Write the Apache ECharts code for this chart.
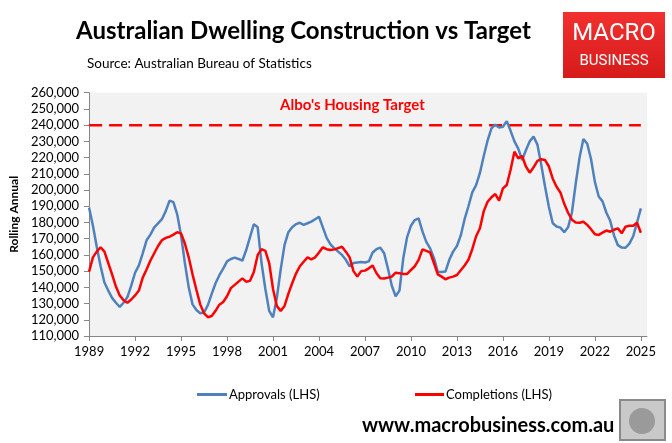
<!DOCTYPE html>
<html><head><meta charset="utf-8">
<script src="https://cdn.jsdelivr.net/npm/echarts@6/dist/echarts.min.js"></script>
<style>html,body{margin:0;padding:0;background:#fff}#c{width:672px;height:443px}</style>
</head><body><div id="c"></div>
<script>
// ---- data ----
const startYear = 1989;            // first quarter of the series
const quartersPerYear = 4;
const tickYears = [1989, 1992, 1995, 1998, 2001, 2004, 2007, 2010, 2013, 2016, 2019, 2022, 2025];
const targetLevel = 240000;
const targetYears = [1989, 2025];
const approvals = [
  189000,178000,165000,153000,143000,138000,133500,130500,128000,130500,
  134000,141000,149000,153500,161000,169000,172500,177000,179500,182000,
  187000,193500,192500,185000,172000,155000,140000,129500,126000,124000,
  124500,129000,136000,142500,147500,151500,156000,157500,158300,157500,
  156400,163000,171000,179000,177000,155000,139000,125500,121500,133500,
  151000,166000,174000,177000,179000,179800,178500,179500,180500,182000,
  183500,177000,170500,166500,164000,162000,160000,157000,153000,155000,
  155300,155600,155300,156000,161500,163500,164500,161000,151500,141000,
  134500,138000,158000,171000,178000,181500,182500,174500,168000,164000,
  158000,149500,149500,149700,157000,162000,165500,172000,182000,190000,
  198500,203000,210500,221000,230500,238000,240300,238500,239000,242500,
  236500,230000,225500,218500,224500,230000,233000,228000,215500,202000,
  189500,179500,177500,176800,174000,177000,186000,204000,220000,231500,
  228500,219000,205000,196000,193000,186000,181000,172000,166000,164500,
  164400,167000,171500,180000,188700
];
const completions = [
  149700,158500,162000,164700,162000,155000,148000,140500,135000,132000,
  130500,132500,135000,138000,146000,151000,156500,161000,165500,169000,
  170500,171200,172500,174000,173300,167000,158500,148000,138500,129500,
  124000,121600,122300,125500,129300,131000,134500,139500,141500,143500,
  145500,143500,144000,149500,160000,163500,162500,155000,139000,128500,
  125500,128500,136000,142500,148500,153000,155800,158500,157300,158500,
  161500,164700,163500,163000,163400,164200,165000,162000,158500,150000,
  146600,150000,150300,151700,153500,148700,145600,145400,146000,146600,
  149000,148700,148300,148300,150700,153000,156900,163400,162500,161500,
  155000,148000,146600,145000,146000,146600,147600,150500,153500,157000,
  163500,171500,176400,187000,192800,195500,197500,193400,201000,203100,
  212500,223600,219500,221000,214500,210700,214000,218000,219000,218500,
  214500,207000,202000,198500,191500,186000,181700,180000,179800,180400,
  178500,175800,172700,172300,173700,175000,174300,175500,176400,173300,
  177400,178000,178000,179800,173700
];

// ---- build ----
const toPts = arr => arr.map((v, i) => [startYear + i / quartersPerYear, v]);
const FONT = 'Lato, "Noto Sans", sans-serif';
const chart = echarts.init(document.getElementById('c'));
chart.setOption({
  animation: false,
  backgroundColor: '#ffffff',
  textStyle: { fontFamily: FONT },
  grid: { left: 89, right: 25, top: 92.7, bottom: 107, show: true, backgroundColor: '#f2f2f2', borderWidth: 0 },
  xAxis: {
    type: 'value', min: 1989, max: 2025.4, interval: 3,
    axisLine: { lineStyle: { color: '#868686', width: 1 } },
    axisTick: { customValues: tickYears, length: 5, lineStyle: { color: '#868686' } },
    axisLabel: { customValues: tickYears, color: '#000', fontSize: 13, fontFamily: FONT, margin: 9, formatter: v => String(v) },
    splitLine: { show: false }
  },
  yAxis: {
    type: 'value', min: 110000, max: 260000, interval: 10000,
    axisLine: { show: true, lineStyle: { color: '#868686', width: 1 } },
    axisTick: { show: true, length: 5, lineStyle: { color: '#868686' } },
    axisLabel: { color: '#000', fontSize: 13, fontFamily: FONT, margin: 10, formatter: v => v.toLocaleString('en-US') },
    splitLine: { show: false },
    name: 'Rolling Annual', nameLocation: 'middle', nameGap: 67,
    nameTextStyle: { color: '#000', fontWeight: 'bold', fontSize: 12, fontFamily: FONT }
  },
  legend: [
    { data: ['Approvals (LHS)'], left: 192, top: 383, icon: 'rect', itemWidth: 30, itemHeight: 3, itemGap: 4,
      textStyle: { color: '#000', fontSize: 13, fontFamily: FONT, padding: [0, 0, 0, -3] } },
    { data: ['Completions (LHS)'], left: 410, top: 383, icon: 'rect', itemWidth: 29, itemHeight: 3, itemGap: 4,
      textStyle: { color: '#000', fontSize: 13, fontFamily: FONT, padding: [0, 0, 0, -3] } }
  ],
  series: [
    { name: 'Approvals (LHS)', type: 'line', symbol: 'none', data: toPts(approvals),
      lineStyle: { color: '#4f81bd', width: 2.5 }, itemStyle: { color: '#4f81bd' }, z: 3 },
    { name: 'Completions (LHS)', type: 'line', symbol: 'none', data: toPts(completions),
      lineStyle: { color: '#ff0000', width: 2.5 }, itemStyle: { color: '#ff0000' }, z: 4 },
    { name: 'Target', type: 'line', symbol: 'none', data: targetYears.map(y => [y, targetLevel]),
      lineStyle: { color: '#ff0000', width: 2.5, type: [13, 7] }, z: 2 }
  ],
  graphic: [
    { type: 'text', left: 76, top: 19, style: { text: 'Australian Dwelling Construction vs Target', fill: '#000', font: 'bold 24px ' + FONT } },
    { type: 'text', left: 87, top: 57, style: { text: 'Source: Australian Bureau of Statistics', fill: '#000', font: '13.5px ' + FONT } },
    { type: 'text', left: 280, top: 98, style: { text: "Albo's Housing Target", fill: '#ff0000', font: 'bold 15px ' + FONT } },
    { type: 'rect', shape: { x: 563, y: 12, width: 102, height: 66 },
      style: { fill: new echarts.graphic.LinearGradient(0, 0, 0, 1, [{ offset: 0, color: '#f23030' }, { offset: 1, color: '#d61a1a' }]) } },
    { type: 'text', style: { x: 614, y: 34, text: 'MACRO', fill: '#fff', font: '24px Roboto, sans-serif', align: 'center', verticalAlign: 'middle' } },
    { type: 'text', style: { x: 614, y: 61, text: 'BUSINESS', fill: '#fff', font: '15px Roboto, sans-serif', align: 'center', verticalAlign: 'middle' } },
    { type: 'text', left: 362, top: 416, style: { text: 'www.macrobusiness.com.au', fill: '#000', font: 'bold 20px ' + FONT } },
    { type: 'rect', shape: { x: 620, y: 400, width: 45, height: 40 }, style: { fill: '#c9c9c9', stroke: '#8a8a8a', lineWidth: 2 } },
    { type: 'circle', shape: { cx: 642, cy: 421, r: 13 }, style: { fill: '#9a9a9a' } }
  ]
});
</script>
</body></html>
